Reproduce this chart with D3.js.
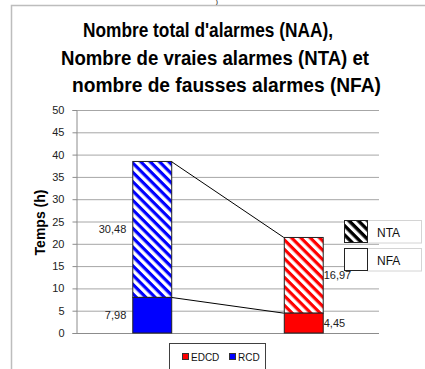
<!DOCTYPE html>
<html><head><meta charset="utf-8">
<script src="https://cdn.jsdelivr.net/npm/d3@7"></script>
<style>body{margin:0;background:#fff}</style>
</head><body>
<svg id="c" width="425" height="369" xmlns="http://www.w3.org/2000/svg"></svg>
<script>
// ---- data ----
const categories = ["RCD", "EDCD"];
const nfaValues = [7.98, 4.45];     // solid bottom segment
const ntaValues = [30.48, 16.97];   // hatched top segment
const barColors = ["#0000ff", "#ff0000"];
const yTicks = [0, 5, 10, 15, 20, 25, 30, 35, 40, 45, 50];
const titleLines = ["Nombre total d'alarmes (NAA),", "Nombre de vraies alarmes (NTA) et", "nombre de fausses alarmes (NFA)"];
const yAxisTitle = "Temps (h)";
const bottomLegend = ["EDCD", "RCD"];
const bottomLegendColors = ["#ff0000", "#0000ff"];
const rightLegend = ["NTA", "NFA"];

// ---- layout ----
const svg = d3.select("#c");
const plot = {left: 76, right: 379, top: 110, bottom: 333};
const x = d3.scaleBand().domain(categories).range([plot.left, plot.right]).paddingInner(0.743).paddingOuter(0.3715);
const y = d3.scaleLinear().domain([0, 50]).range([plot.bottom, plot.top]);
const fmt = v => d3.format(".2f")(v).replace(".", ",");
const font = "'Liberation Sans', Arial, sans-serif";

const defs = svg.append("defs");
function hatch(id, color, size, width) {
  const p = defs.append("pattern").attr("id", id).attr("patternUnits", "userSpaceOnUse")
    .attr("width", size).attr("height", size).attr("patternTransform", "rotate(45)");
  p.append("rect").attr("width", size).attr("height", size).attr("fill", "#fff");
  p.append("rect").attr("width", size).attr("height", width).attr("fill", color);
}
hatch("hb", barColors[0], 6.6, 3.2);
hatch("hr", barColors[1], 6.6, 3.2);
hatch("hk", "#000", 6.6, 3.4);

// outer frame
svg.append("path").attr("d", "M11.5,369 V5.5 H425").attr("fill", "none").attr("stroke", "#bdbdbd").attr("stroke-width", 1.5);
// fragment of text above frame
svg.append("text").attr("x", 217).attr("y", 4.3).attr("text-anchor", "middle")
  .attr("font-family", font).attr("font-size", 5.5).attr("font-weight", "bold").attr("fill", "#333").text(")");

// title
const titleX = [83, 61, 72], titleW = [250, 308, 309], titleY = [37, 65, 92];
svg.append("g").selectAll("text").data(titleLines).join("text")
  .attr("x", (d, i) => titleX[i]).attr("y", (d, i) => titleY[i])
  .attr("textLength", (d, i) => titleW[i]).attr("lengthAdjust", "spacingAndGlyphs")
  .attr("font-family", font).attr("font-size", 20).attr("font-weight", "bold").attr("fill", "#000")
  .text(d => d);

// gridlines
svg.append("g").selectAll("line").data(yTicks.filter(t => t > 0)).join("line")
  .attr("x1", plot.left).attr("x2", plot.right).attr("y1", d => y(d) + 0.5).attr("y2", d => y(d) + 0.5)
  .attr("stroke", "#a6a6a6").attr("stroke-width", 1);

// y axis
const yAxis = svg.append("g").attr("transform", `translate(${plot.left + 0.5},0)`)
  .call(d3.axisLeft(y).tickValues(yTicks).tickSize(4).tickPadding(8).tickFormat(d3.format("d")));
yAxis.select(".domain").attr("stroke", "#8c8c8c");
yAxis.selectAll(".tick line").attr("stroke", "#8c8c8c");
yAxis.selectAll("text").attr("font-family", font).attr("font-size", 11).attr("fill", "#222");
// x axis line
svg.append("line").attr("x1", plot.left).attr("x2", plot.right).attr("y1", y(0) + 0.5).attr("y2", y(0) + 0.5)
  .attr("stroke", "#8c8c8c");

// y axis title
svg.append("text").attr("transform", `translate(45,${(plot.top + plot.bottom) / 2 + 1}) rotate(-90)`)
  .attr("text-anchor", "middle").attr("font-family", font).attr("font-size", 14).attr("font-weight", "bold")
  .attr("fill", "#000").text(yAxisTitle);

// series connector lines
const c0 = categories[0], c1 = categories[1];
[[nfaValues[0], nfaValues[1]], [nfaValues[0] + ntaValues[0], nfaValues[1] + ntaValues[1]]].forEach(([a, b]) => {
  svg.append("line").attr("x1", x(c0) + x.bandwidth()).attr("y1", y(a))
    .attr("x2", x(c1)).attr("y2", y(b)).attr("stroke", "#000").attr("stroke-width", 1);
});

// bars
const patterns = ["url(#hb)", "url(#hr)"];
const bars = svg.append("g");
categories.forEach((c, i) => {
  bars.append("rect").attr("x", x(c) + 0.5).attr("width", x.bandwidth())
    .attr("y", y(nfaValues[i] + ntaValues[i])).attr("height", y(nfaValues[i]) - y(nfaValues[i] + ntaValues[i]))
    .attr("fill", patterns[i]).attr("stroke", "#222").attr("stroke-width", 1);
  bars.append("rect").attr("x", x(c) + 0.5).attr("width", x.bandwidth())
    .attr("y", y(nfaValues[i])).attr("height", y(0) - y(nfaValues[i]))
    .attr("fill", barColors[i]).attr("stroke", "#222").attr("stroke-width", 1);
});

// data labels (left of first bar, right of second)
categories.forEach((c, i) => {
  const left = i === 0;
  const lx = left ? x(c) - 6 : x(c) + x.bandwidth() + 1;
  const anchor = left ? "end" : "start";
  [[nfaValues[i], nfaValues[i] / 2], [ntaValues[i], nfaValues[i] + ntaValues[i] / 2]].forEach(([v, mid]) => {
    svg.append("text").attr("x", lx).attr("y", y(mid) + 4).attr("text-anchor", anchor)
      .attr("font-family", font).attr("font-size", 11).attr("fill", "#222").text(fmt(v));
  });
});

// right legend
const rl = svg.append("g");
rightLegend.forEach((d, i) => {
  const top = 221 + i * 28;
  rl.append("rect").attr("x", 367.5).attr("y", top - 0.5).attr("width", 54).attr("height", 22.5)
    .attr("fill", "#fff").attr("stroke", "#d4d4d4");
  rl.append("rect").attr("x", 344.5).attr("y", top - 0.5).attr("width", 23).attr("height", 22)
    .attr("fill", i === 0 ? "url(#hk)" : "#fff").attr("stroke", "#222");
  rl.append("text").attr("x", 377).attr("y", top + 15.5).attr("font-family", font).attr("font-size", 12)
    .attr("fill", "#111").text(d);
});

// bottom legend
const bl = svg.append("g");
bl.append("rect").attr("x", 169.5).attr("y", 343.5).attr("width", 96).attr("height", 40)
  .attr("fill", "#fff").attr("stroke", "#404040");
const blX = [182, 229];
bottomLegend.forEach((d, i) => {
  bl.append("rect").attr("x", blX[i] + 0.5).attr("y", 353.5).attr("width", 6).attr("height", 6)
    .attr("fill", bottomLegendColors[i]).attr("stroke", "#333");
  bl.append("text").attr("x", blX[i] + 9).attr("y", 361).attr("font-family", font).attr("font-size", 10)
    .attr("fill", "#111").text(d);
});
</script>
</body></html>
